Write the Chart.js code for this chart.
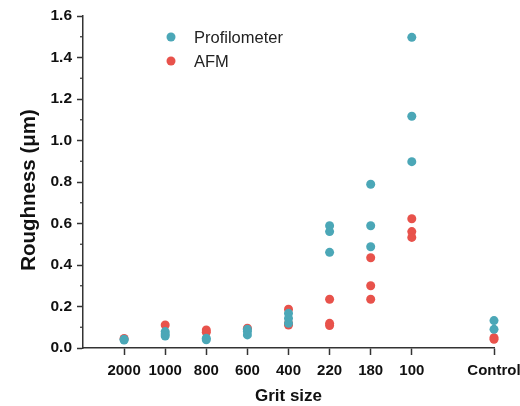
<!DOCTYPE html>
<html>
<head>
<meta charset="utf-8">
<script src="https://cdn.jsdelivr.net/npm/chart.js@4"></script>
<style>
  html, body { margin: 0; padding: 0; background: #fff; }
  #wrap { width: 520px; height: 406px; }
</style>
</head>
<body>
<div id="wrap"><canvas id="chart"></canvas></div>
<script>
// grit categories and their place on the x axis (gap before Control)
const gritLabels = ['2000', '1000', '800', '600', '400', '220', '180', '100', 'Control'];
const gritPos = [1, 2, 3, 4, 5, 6, 7, 8, 10];

// measured roughness (µm), one list of repeats per grit
const profilometer = [
    [0.042, 0.038],
    [0.079, 0.068, 0.058],
    [0.047, 0.040],
    [0.079, 0.063, 0.090],
    [0.167, 0.143, 0.119],
    [0.589, 0.561, 0.461],
    [0.789, 0.589, 0.488],
    [1.497, 1.117, 0.898],
    [0.132, 0.090],
];
const afm = [
    [0.046],
    [0.111],
    [0.087, 0.076],
    [0.095],
    [0.187, 0.111, 0.118],
    [0.235, 0.119, 0.108],
    [0.435, 0.300, 0.235],
    [0.623, 0.561, 0.533],
    [0.050, 0.042],
];
const yTicks = [0, 0.2, 0.4, 0.6, 0.8, 1.0, 1.2, 1.4, 1.6];

const toPoints = (rows) => rows.flatMap((vals, i) => vals.map((v) => ({ x: gritPos[i], y: v })));

const TEAL = '#4ba7b7';
const RED = '#e8524b';
const AXIS = '#333333';
const FONT = '"Liberation Sans", Arial, sans-serif';

// minor y ticks, y title and in-plot legend
const extras = {
    id: 'extras',
    afterDraw(chart) {
        const ctx = chart.ctx;
        const y = chart.scales.y;
        const left = chart.chartArea.left;
        ctx.save();
        ctx.strokeStyle = AXIS;
        ctx.lineWidth = 1.2;
        for (let i = 0; i < yTicks.length - 1; i++) {
            const py = y.getPixelForValue((yTicks[i] + yTicks[i + 1]) / 2);
            ctx.beginPath();
            ctx.moveTo(left - 3, py);
            ctx.lineTo(left, py);
            ctx.stroke();
        }

        ctx.save();
        ctx.translate(29, 190);
        ctx.rotate(-Math.PI / 2);
        ctx.font = 'bold 20.5px ' + FONT;
        ctx.fillStyle = '#111';
        ctx.textAlign = 'center';
        ctx.textBaseline = 'middle';
        ctx.fillText('Roughness (μm)', 0, 0);
        ctx.restore();

        const items = chart.data.datasets;
        ctx.font = '16.5px ' + FONT;
        ctx.textBaseline = 'middle';
        items.forEach((ds, i) => {
            const cy = 37 + i * 24;
            ctx.fillStyle = ds.backgroundColor;
            ctx.beginPath();
            ctx.arc(171, cy, 4.5, 0, Math.PI * 2);
            ctx.fill();
            ctx.fillStyle = '#222';
            ctx.fillText(ds.label, 194, cy + 1);
        });
        ctx.restore();
    }
};

const ctx = document.getElementById('chart').getContext('2d');
new Chart(ctx, {
    type: 'scatter',
    data: {
        datasets: [
            {
                label: 'Profilometer',
                data: toPoints(profilometer),
                backgroundColor: TEAL,
                borderColor: TEAL,
                pointRadius: 4.5,
                borderWidth: 0,
                clip: false,
            },
            {
                label: 'AFM',
                data: toPoints(afm),
                backgroundColor: RED,
                borderColor: RED,
                pointRadius: 4.5,
                borderWidth: 0,
                clip: false,
            },
        ],
    },
    options: {
        responsive: true,
        maintainAspectRatio: false,
        animation: false,
        layout: { padding: { top: 16, right: 26, left: 0, bottom: 0 } },
        plugins: {
            legend: { display: false },
            tooltip: { enabled: false },
        },
        scales: {
            x: {
                type: 'linear',
                min: 0,
                max: 10,
                afterBuildTicks: (scale) => {
                    scale.ticks = gritPos.map((v) => ({ value: v }));
                },
                afterFit: (scale) => {
                    scale.height = 58;
                    scale.paddingLeft = 0;
                    scale.paddingRight = 0;
                },
                ticks: {
                    autoSkip: false,
                    maxRotation: 0,
                    padding: 7,
                    color: '#111',
                    font: { family: FONT, size: 15, weight: 'bold' },
                    callback: (v) => gritLabels[gritPos.indexOf(v)] ?? '',
                },
                grid: { drawOnChartArea: false, tickLength: 7, tickColor: AXIS, tickWidth: 1.5 },
                border: { color: AXIS, width: 1.5 },
                title: {
                    display: true,
                    text: 'Grit size',
                    color: '#111',
                    padding: { top: 4, bottom: -1 },
                    font: { family: FONT, size: 17, weight: 'bold' },
                },
            },
            y: {
                min: 0,
                max: 1.6,
                afterBuildTicks: (scale) => {
                    scale.ticks = yTicks.map((v) => ({ value: v }));
                },
                afterFit: (scale) => {
                    scale.width = 83;
                },
                ticks: {
                    padding: 5,
                    color: '#111',
                    font: { family: FONT, size: 15.5, weight: 'bold' },
                    callback: (v) => Number(v).toFixed(1),
                },
                grid: { drawOnChartArea: false, tickLength: 6, tickColor: AXIS, tickWidth: 1.5 },
                border: { color: AXIS, width: 1.5 },
                title: { display: false },
            },
        },
    },
    plugins: [extras],
});
</script>
</body>
</html>
